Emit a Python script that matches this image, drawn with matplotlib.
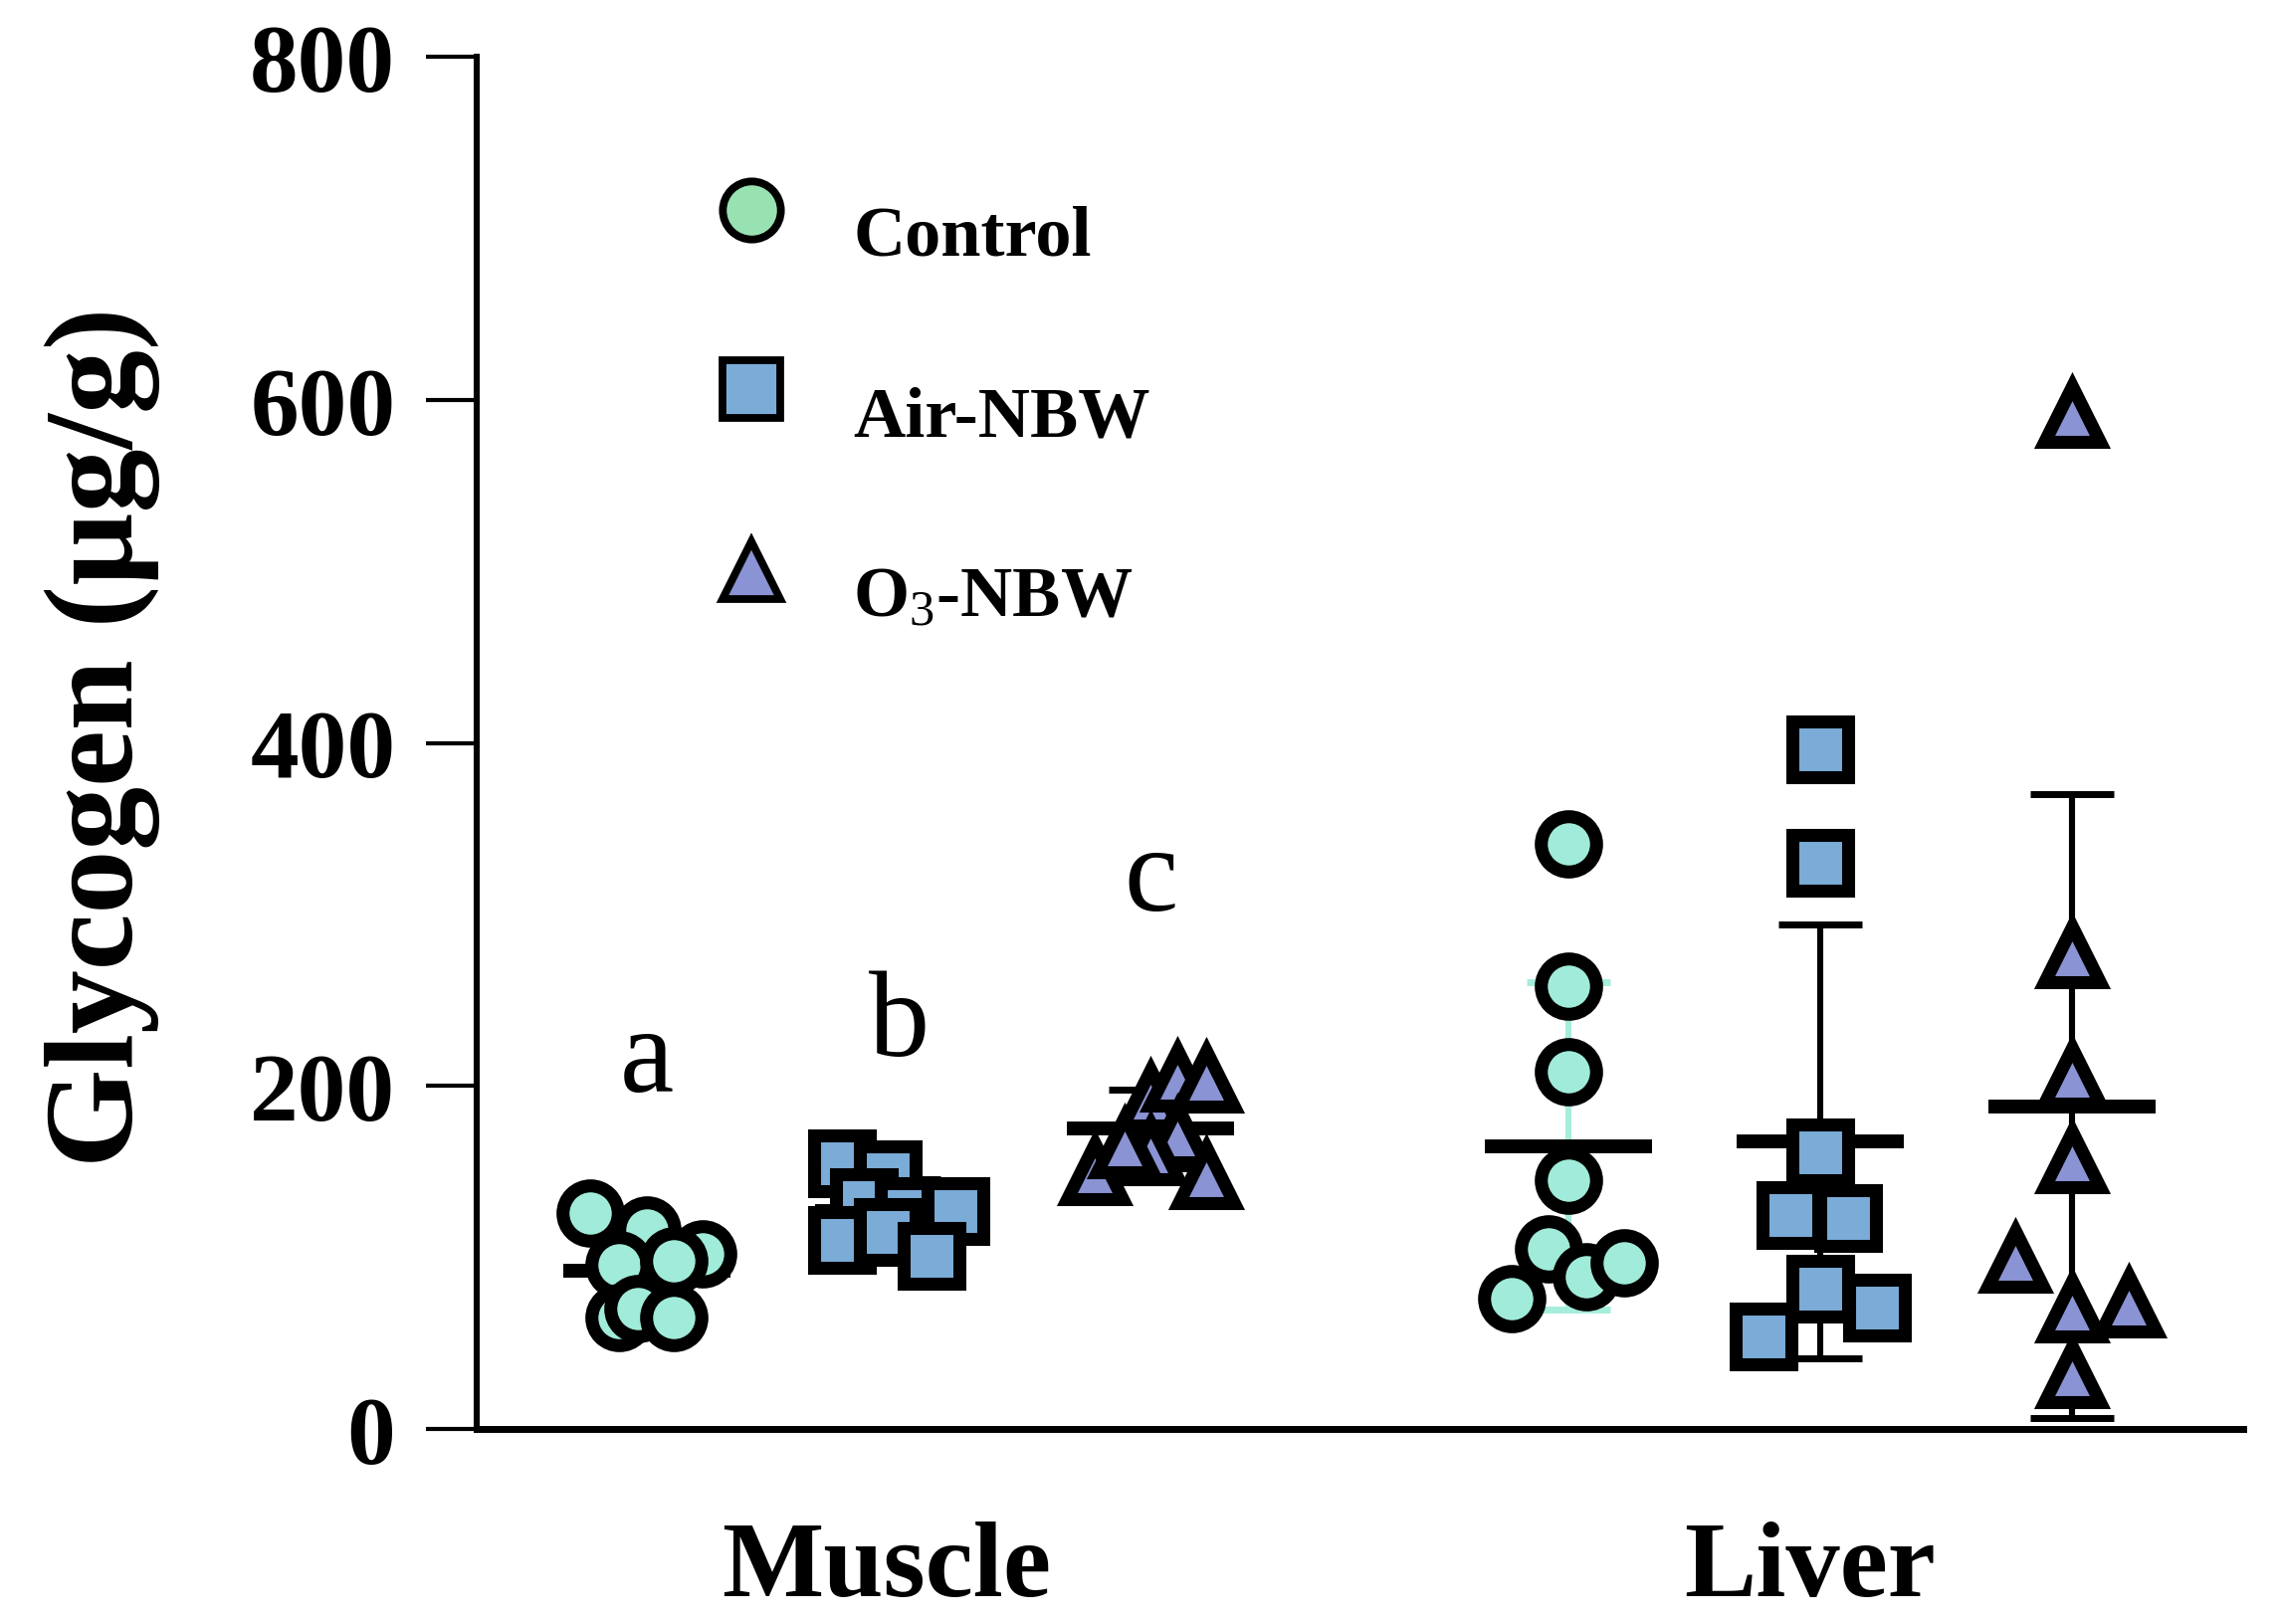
import matplotlib
matplotlib.use("Agg")
import matplotlib.pyplot as plt
import numpy as np

plt.rcParams['font.family'] = ['Liberation Serif', 'DejaVu Serif']
plt.rcParams['mathtext.fontset'] = 'custom'
plt.rcParams['mathtext.rm'] = 'Liberation Serif'
plt.rcParams['mathtext.it'] = 'Liberation Serif:italic'
plt.rcParams['mathtext.bf'] = 'Liberation Serif:bold'

# ---------------- data ----------------
tissues = ['Muscle', 'Liver']
groups = ['Control', 'Air-NBW', r'O$_{3}$-NBW']

muscle_control = [126, 116, 102, 96, 98, 65, 70, 65]
muscle_air = [155, 148.5, 132, 127, 127, 110, 115, 101]
muscle_o3 = [193, 205, 204, 172, 162, 150, 148, 166]
liver_control = [341, 258, 208, 145, 105, 89, 97, 76]
liver_air = [396, 330, 161, 125, 123, 82, 71, 54]
liver_o3 = [592, 277, 206, 157, 99, 70, 73, 32]

# horizontal scatter offsets of the points (as seen in the picture)
jit_muscle_control = [-0.225, 0, 0.221, -0.111, 0.107, -0.111, -0.036, 0.107]
jit_muscle_air = [-0.225, -0.043, -0.138, 0.04, 0.225, -0.225, -0.043, 0.13]
jit_muscle_o3 = [0, 0.107, 0.221, 0.107, 0, -0.221, 0.221, -0.103]
jit_liver_control = [0, 0, 0, 0, -0.079, 0.071, 0.221, -0.225]
jit_liver_air = [0, 0, 0, -0.119, 0.112, 0, 0.224, -0.224]
jit_liver_o3 = [0, 0, 0, 0, -0.225, 0, 0.225, 0]

letters = ['a', 'b', 'c']
letter_y = [197, 218, 303]

# ---------------- layout / style ----------------
W, H, DPI = 2291, 1633, 200
fig = plt.figure(figsize=(W / DPI, H / DPI), dpi=DPI)
ax = fig.add_axes([479 / W, 1 - 1437 / H, 1775 / W, 1379 / H])

group_x = [0, 1, 2, 3.66, 4.66, 5.66]
all_vals = [muscle_control, muscle_air, muscle_o3, liver_control, liver_air, liver_o3]
all_jit = [jit_muscle_control, jit_muscle_air, jit_muscle_o3,
           jit_liver_control, jit_liver_air, jit_liver_o3]
markers = ['o', 's', '^']
fills = ['#A0EBD9', '#7BACD7', '#8A93D3']
err_colors = ['#A6EDDC', 'black', 'black']
legend_fills = ['#98E2B2', '#7BACD7', '#8A93D3']

for i, (vals, jit, x0) in enumerate(zip(all_vals, all_jit, group_x)):
    g = i % 3
    v = np.asarray(vals, dtype=float)
    m = v.mean()
    sd = v.std(ddof=1)
    ax.errorbar(x0, m, yerr=sd, fmt='none', ecolor=err_colors[g],
                elinewidth=2.2, capsize=15, capthick=2.5, zorder=1)
    ax.hlines(m, x0 - 0.332, x0 + 0.332, color='black', lw=5, zorder=2)
    ax.plot(x0 + np.asarray(jit), v, linestyle='none', marker=markers[g],
            ms=20, mfc=fills[g], mec='black', mew=4.7, zorder=3, clip_on=False)

for k, (lt, ly) in enumerate(zip(letters, letter_y)):
    ax.text(group_x[k], ly, lt, fontsize=44, ha='center', va='baseline',
            family='Liberation Serif')

# manual legend
leg_marker_y = [0.888, 0.758, 0.626]
leg_text_y = [0.8564, 0.7244, 0.5928]
for g in range(3):
    ax.plot(0.1555, leg_marker_y[g], transform=ax.transAxes, marker=markers[g],
            ms=21, mfc=legend_fills[g], mec='black', mew=2.8, clip_on=False)
    ax.text(0.213, leg_text_y[g], groups[g], transform=ax.transAxes,
            fontsize=26, fontweight='bold', ha='left', va='baseline')

# axes
ax.set_xlim(-0.676, 6.34)
ax.set_ylim(0, 800)
ax.set_yticks([0, 200, 400, 600, 800])
ax.set_xticks([0.95, 4.62])
ax.set_xticklabels(tissues, fontsize=39, fontweight='bold')
for lab in ax.get_yticklabels():
    lab.set_fontsize(35)
    lab.set_fontweight('bold')
ax.tick_params(axis='y', length=18.4, width=1.5, pad=11)
ax.tick_params(axis='x', length=0, pad=33)

ax.spines['top'].set_visible(False)
ax.spines['right'].set_visible(False)
ax.spines['left'].set_linewidth(2.2)
ax.spines['bottom'].set_linewidth(2.5)

ax.set_ylabel('Glycogen (µg/g)', fontsize=46, fontweight='bold')
ax.yaxis.set_label_coords(-0.212, 0.505)
ax.yaxis.label.set_verticalalignment('center')

fig.savefig('out.png', dpi=DPI)
